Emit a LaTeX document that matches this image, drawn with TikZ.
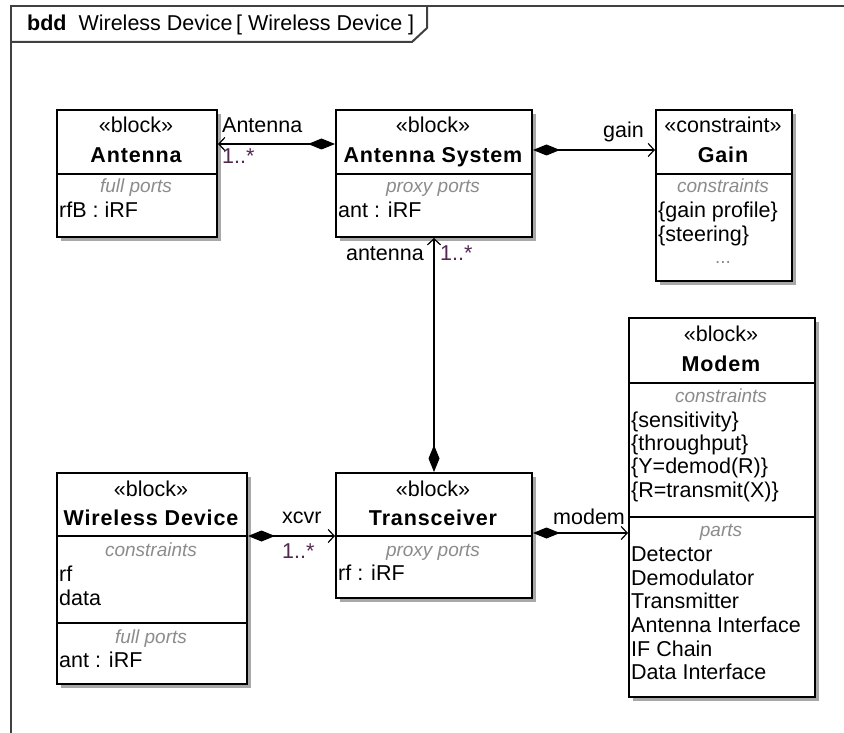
\documentclass[tikz,border=0pt]{standalone}
\usepackage{fontspec}
\setmainfont{Liberation Sans}
\usetikzlibrary{arrows.meta,shadows}
\definecolor{lbl}{HTML}{8C8C8C}
\definecolor{mult}{HTML}{502850}
\definecolor{shad}{HTML}{A8A8A8}
\definecolor{framec}{HTML}{404040}
\tikzset{
  blk/.style={draw=black, line width=2pt, fill=white, inner sep=0pt, anchor=north west,
    drop shadow={shadow xshift=4pt, shadow yshift=-4pt, fill=shad, opacity=1}},
  txt/.style={inner sep=0pt, anchor=base, font=\fontsize{21.5}{24}\selectfont},
  ttl/.style={inner sep=0pt, anchor=base, font=\fontsize{21.5}{24}\selectfont\bfseries\addfontfeature{LetterSpace=4}},
  cmp/.style={inner sep=0pt, anchor=base, font=\fontsize{19}{22}\selectfont\itshape, text=lbl},
  itm/.style={txt, anchor=base west},
  multl/.style={txt, anchor=base west, text=mult},
  conn/.style={line width=1.5pt, {Diamond[length=27pt,width=11pt]}-{Straight Barb[length=6pt,width=13pt,line width=1.2pt]}},
  divline/.style={line width=2pt},
  framel/.style={line width=2pt, draw=framec},
}
\begin{document}
\begin{tikzpicture}[x=1pt,y=-1pt]
\useasboundingbox (0,0) rectangle (844,733);
% frame
\draw[framel] (11,733) -- (11,6) -- (844,6);
\draw[framel] (11,42) -- (412,42) -- (427,28) -- (427,6);
\node[txt, anchor=base west] (hdr) at (27,31) {\textbf{bdd}\ \ Wireless Device\,[ Wireless Device ]};

% Antenna
\node[blk, minimum width=160pt, minimum height=127pt] (antb) at (56,109) {};
\draw[divline] (antb.west |- 0,174) -- (antb.east |- 0,174);
\node[txt] (antst) at (136,133) {«block»};
\node[ttl] (antt) at (136,163) {Antenna};
\node[cmp] (antc) at (136,193) {full ports};
\node[itm] (anti) at (59,218) {rfB : iRF};

% Antenna System
\node[blk, minimum width=196pt, minimum height=127pt] (asb) at (335,109) {};
\draw[divline] (asb.west |- 0,174) -- (asb.east |- 0,174);
\node[txt] (asst) at (433,133) {«block»};
\node[ttl] (ast) at (433,163) {Antenna System};
\node[cmp] (asc) at (433,193) {proxy ports};
\node[itm] (asi) at (338,218) {ant : iRF};

% Gain
\node[blk, minimum width=136pt, minimum height=171pt] (gb) at (655,109) {};
\draw[divline] (gb.west |- 0,174) -- (gb.east |- 0,174);
\node[txt] (gst) at (723,133) {«constraint»};
\node[ttl] (gt) at (723,163) {Gain};
\node[cmp] (gc) at (723,193) {constraints};
\node[itm] (gi1) at (658,218) {\{gain profile\}};
\node[itm] (gi2) at (658,241) {\{steering\}};
\node[cmp, font=\fontsize{19}{22}\selectfont] (gi3) at (723,263) {...};

% Modem
\node[blk, minimum width=186pt, minimum height=379pt] (mb) at (628,317) {};
\draw[divline] (mb.west |- 0,383) -- (mb.east |- 0,383);
\draw[divline] (mb.west |- 0,517) -- (mb.east |- 0,517);
\node[txt] (mst) at (721,341) {«block»};
\node[ttl] (mt) at (721,371) {Modem};
\node[cmp] (mc) at (721,402) {constraints};
\node[itm] (mc1) at (631,427) {\{sensitivity\}};
\node[itm] (mc2) at (631,450) {\{throughput\}};
\node[itm] (mc3) at (631,473) {\{Y=demod(R)\}};
\node[itm] (mc4) at (631,497) {\{R=transmit(X)\}};
\node[cmp] (mp) at (721,536) {parts};
\node[itm] (mp1) at (631,561) {Detector};
\node[itm] (mp2) at (631,585) {Demodulator};
\node[itm] (mp3) at (631,608) {Transmitter};
\node[itm] (mp4) at (631,632) {Antenna Interface};
\node[itm] (mp5) at (631,656) {IF Chain};
\node[itm] (mp6) at (631,679) {Data Interface};

% Wireless Device
\node[blk, minimum width=190pt, minimum height=211pt] (wb) at (56,472) {};
\draw[divline] (wb.west |- 0,536) -- (wb.east |- 0,536);
\draw[divline] (wb.west |- 0,623) -- (wb.east |- 0,623);
\node[txt] (wst) at (151,496) {«block»};
\node[ttl] (wt) at (151,525) {Wireless Device};
\node[cmp] (wc) at (151,556) {constraints};
\node[itm] (wc1) at (59,581) {rf};
\node[itm] (wc2) at (59,605) {data};
\node[cmp] (wp) at (151,643) {full ports};
\node[itm] (wp1) at (59,667) {ant : iRF};

% Transceiver
\node[blk, minimum width=196pt, minimum height=125pt] (xb) at (335,472) {};
\draw[divline] (xb.west |- 0,536) -- (xb.east |- 0,536);
\node[txt] (xst) at (433,496) {«block»};
\node[ttl] (xt) at (433,525) {Transceiver};
\node[cmp] (xc) at (433,556) {proxy ports};
\node[itm] (xi) at (338,580) {rf : iRF};

% connectors
\draw[conn] (asb.west |- 0,144) -- (antb.east |- 0,144);
\draw[conn] (asb.east |- 0,150) -- (gb.west |- 0,150);
\draw[conn] (xb.north) -- (asb.south);
\draw[conn] (wb.east |- 0,536) -- (xb.west |- 0,536);
\draw[conn] (xb.east |- 0,533) -- (mb.west |- 0,533);

% connector labels
\node[itm] (l1) at (222,133) {Antenna};
\node[multl] (m1) at (222,164) {1..*};
\node[txt, anchor=base east] (l2) at (644,138) {gain};
\node[txt, anchor=base east] (l3) at (424,260) {antenna};
\node[multl] (m3) at (440,260) {1..*};
\node[itm] (l4) at (282,523) {xcvr};
\node[multl] (m4) at (282,558) {1..*};
\node[itm] (l5) at (553,524) {modem};
\end{tikzpicture}
\end{document}
